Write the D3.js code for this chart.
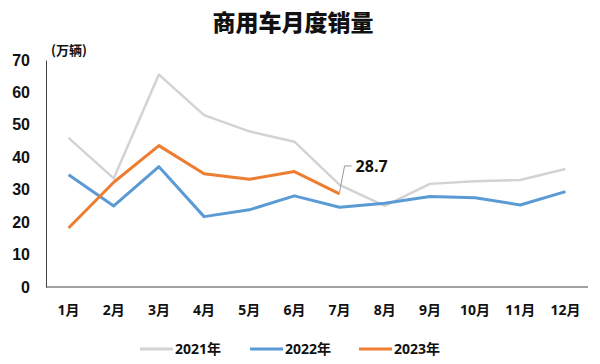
<!DOCTYPE html>
<html lang="zh">
<head>
<meta charset="UTF-8">
<title>商用车月度销量</title>
<script src="https://d3js.org/d3.v7.min.js"></script>
<style>
  body { margin: 0; background: #fff; font-family: 'Open Sans', 'Noto Sans CJK SC', sans-serif; }
  .tick text { font-weight: bold; fill: #111; }
</style>
</head>
<body>
<div id="chart"></div>
<script>
// data (万辆)
const months = ["1月","2月","3月","4月","5月","6月","7月","8月","9月","10月","11月","12月"];
const sales2021 = [46, 33.5, 65.5, 53, 48, 44.8, 31.5, 25, 31.8, 32.6, 33, 36.4];
const sales2022 = [34.6, 25, 37.1, 21.7, 23.8, 28.1, 24.6, 25.8, 27.9, 27.5, 25.3, 29.4];
const sales2023 = [18.2, 32.3, 43.6, 34.9, 33.2, 35.6, 28.7];
const yTicks = [0, 10, 20, 30, 40, 50, 60, 70];

const series = [
  { name: "2021年", values: sales2021, color: "#d3d3d3", width: 2.5 },
  { name: "2022年", values: sales2022, color: "#5b9bd5", width: 3 },
  { name: "2023年", values: sales2023, color: "#ed7d31", width: 3 }
];

const width = 600, height = 364;
const margin = { top: 60, right: 12, bottom: 77, left: 46 };
const plotW = width - margin.left - margin.right;
const plotH = height - margin.top - margin.bottom;

const svg = d3.select("#chart").append("svg")
  .attr("width", width)
  .attr("height", height);

// title
svg.append("text")
  .attr("x", 293).attr("y", 31)
  .attr("text-anchor", "middle")
  .style("font-family", "'Noto Sans CJK SC', sans-serif")
  .style("font-weight", "900")
  .style("font-size", "23px")
  .attr("fill", "#111")
  .text("商用车月度销量");

// unit
svg.append("text")
  .attr("x", 51).attr("y", 55)
  .style("font-family", "'Noto Sans CJK SC', sans-serif")
  .style("font-weight", "bold")
  .style("font-size", "13px")
  .attr("fill", "#111")
  .text("(万辆)");

const g = svg.append("g")
  .attr("transform", "translate(" + margin.left + "," + margin.top + ")");

const x = d3.scaleBand().domain(months).range([0, plotW]);
const y = d3.scaleLinear().domain([0, 70]).range([plotH, 0]);

// axes
const yAxis = g.append("g")
  .call(d3.axisLeft(y).tickValues(yTicks).tickSize(0).tickPadding(16));
yAxis.select(".domain").attr("stroke", "#444");
yAxis.selectAll("text").style("font-size", "16px");

const xAxis = g.append("g")
  .attr("transform", "translate(0," + plotH + ")")
  .call(d3.axisBottom(x).tickSize(0).tickPadding(18));
xAxis.select(".domain").attr("stroke", "#444").attr("d", "M0,0H" + plotW);
xAxis.selectAll("text")
  .style("font-family", "'Open Sans', 'Noto Sans CJK SC', sans-serif")
  .style("font-size", "14px");

// lines
const line = d3.line()
  .x((d, i) => x(months[i]) + x.bandwidth() / 2)
  .y(d => y(d));

g.selectAll(".series")
  .data(series)
  .enter()
  .append("path")
  .attr("class", "series")
  .attr("d", d => line(d.values))
  .attr("fill", "none")
  .attr("stroke", d => d.color)
  .attr("stroke-width", d => d.width)
  .attr("stroke-linejoin", "round");

// data label for last 2023 point
const lastIdx = sales2023.length - 1;
const px = x(months[lastIdx]) + x.bandwidth() / 2;
const py = y(sales2023[lastIdx]);
g.append("path")
  .attr("d", "M" + px + "," + (py - 2) + "L" + (px + 5) + "," + (py - 28) + "L" + (px + 12) + "," + (py - 28))
  .attr("fill", "none")
  .attr("stroke", "#999")
  .attr("stroke-width", 1);
g.append("text")
  .attr("x", px + 16).attr("y", py - 22)
  .style("font-weight", "bold")
  .style("font-size", "16px")
  .attr("fill", "#111")
  .text(sales2023[lastIdx]);

// legend
const legendX = [140, 250, 359];
const legend = svg.selectAll(".legend")
  .data(series)
  .enter()
  .append("g")
  .attr("class", "legend")
  .attr("transform", (d, i) => "translate(" + legendX[i] + ",349)");

legend.append("line")
  .attr("x1", 0).attr("x2", 33)
  .attr("stroke", d => d.color)
  .attr("stroke-width", 3);

legend.append("text")
  .attr("x", 35).attr("y", 5)
  .style("font-family", "'Open Sans', 'Noto Sans CJK SC', sans-serif")
  .style("font-weight", "bold")
  .style("font-size", "14px")
  .attr("fill", "#111")
  .text(d => d.name);
</script>
</body>
</html>
